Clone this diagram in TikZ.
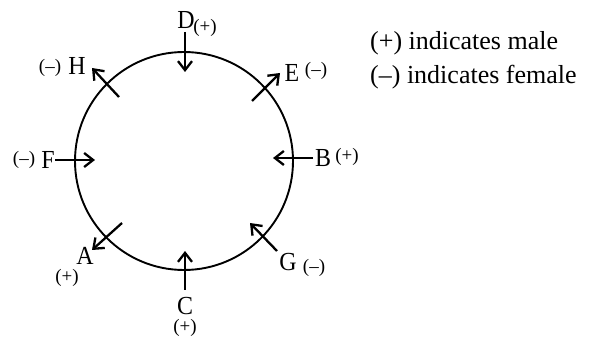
\documentclass[tikz,border=0pt]{standalone}
\usepackage{fontspec}
\setmainfont{Liberation Serif}
\newfontfamily\condserif[FakeStretch=0.92]{Liberation Serif}
\usetikzlibrary{arrows.meta}
\begin{document}
\begin{tikzpicture}[x=1pt,y=-1pt,
  lbl/.style={inner sep=0pt,font=\condserif\fontsize{26}{28}\selectfont},
  sgn/.style={inner sep=0pt,font=\fontsize{19}{21}\selectfont},
  leg/.style={inner sep=0pt,anchor=west,font=\fontsize{26}{28}\selectfont},
  ptr/.style={line width=2.3pt,-{Straight Barb[length=9pt,width=14pt]}},
  ring/.style={circle,draw,line width=1.9pt,minimum size=218pt,inner sep=0pt}]
\useasboundingbox (0,0) rectangle (592,339);
\node[ring] (circ) at (184,161) {};
% arrow end points
\coordinate (d1) at (185,32);  \coordinate (d2) at (185,72);
\coordinate (h1) at (119,97);  \coordinate (h2) at (92,68);
\coordinate (e1) at (252,101); \coordinate (e2) at (280,73);
\coordinate (f1) at (55,160);  \coordinate (f2) at (95,160);
\coordinate (b1) at (313,158); \coordinate (b2) at (273,158);
\coordinate (a1) at (122,223); \coordinate (a2) at (92,250);
\coordinate (c1) at (185,290); \coordinate (c2) at (185,251);
\coordinate (g1) at (277,251); \coordinate (g2) at (250,223);
\foreach \p in {d,h,e,f,b,a,c,g} \draw[ptr] (\p1) -- (\p2);
% labels
\node[lbl] (D) at (186,20) {D};   \node[sgn] (Ds) at (205,28) {(+)};
\node[lbl] (H) at (77,66) {H};    \node[sgn] (Hs) at (50,68) {(–)};
\node[lbl] (E) at (292,73) {E};   \node[sgn] (Es) at (316,71) {(–)};
\node[lbl] (F) at (48,160) {F};   \node[sgn] (Fs) at (24,160) {(–)};
\node[lbl] (B) at (323,158) {B};  \node[sgn] (Bs) at (347,157) {(+)};
\node[lbl] (A) at (85,256) {A};   \node[sgn] (As) at (67,278) {(+)};
\node[lbl] (C) at (185,306) {C};  \node[sgn] (Cs) at (185,328) {(+)};
\node[lbl] (G) at (288,262) {G};  \node[sgn] (Gs) at (314,268) {(–)};
% legend
\node[leg] (L1) at (370,43) {(+) indicates male};
\node[leg] (L2) at (370,77) {(–) indicates female};
\end{tikzpicture}
\end{document}
